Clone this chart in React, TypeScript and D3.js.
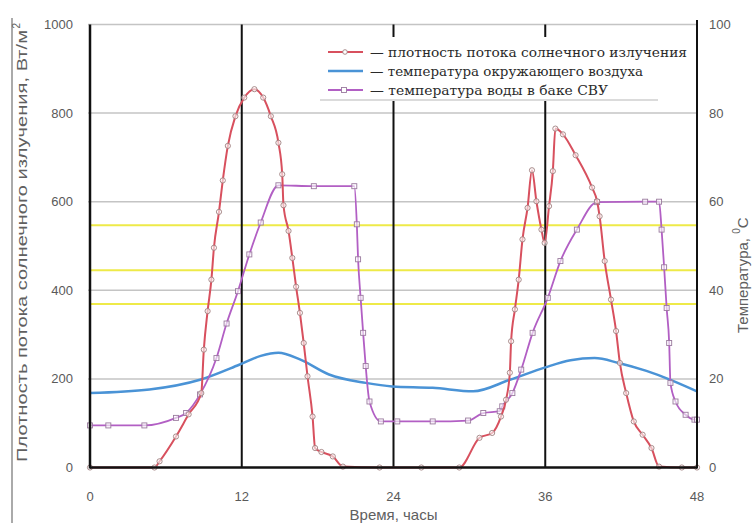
import React from 'react';
import * as d3 from 'd3';

const xTicks = [0, 12, 24, 36, 48];
const leftTicks = [0, 200, 400, 600, 800, 1000];
const rightTicks = [0, 20, 40, 60, 80, 100];
const thresholdLevels = [547, 445, 369];
const dayDividers = [12, 24, 36];

// [hour, W/m²]
const solarFlux: [number, number][] = [
  [0, 0], [5.1, 0], [5.5, 14], [6.8, 70], [7.8, 120], [8.8, 168], [9.0, 266], [9.3, 353],
  [9.6, 424], [9.8, 496], [10.2, 577], [10.5, 648], [10.9, 726], [11.5, 793], [12.2, 835],
  [13.0, 854], [13.7, 835], [14.3, 793], [14.9, 733], [15.2, 662], [15.3, 592], [15.7, 534],
  [16.0, 473], [16.3, 408], [16.6, 349], [16.9, 281], [17.2, 206], [17.6, 115], [17.8, 44],
  [18.3, 35], [19.2, 25], [20.0, 2], [22.9, 0], [26.2, 0], [29.2, 0], [30.8, 67], [31.8, 78],
  [32.5, 115], [32.9, 153], [33.2, 214], [33.3, 285], [33.6, 357], [33.9, 424], [34.2, 515],
  [34.6, 586], [34.95, 671], [35.3, 601], [35.7, 537], [35.95, 507], [36.3, 590], [36.6, 669],
  [36.8, 765], [37.4, 752], [38.4, 705], [39.7, 632], [40.1, 601], [40.3, 567], [40.7, 466],
  [41.2, 379], [41.6, 308], [41.9, 236], [42.4, 168], [43.0, 104], [43.7, 74], [44.4, 44],
  [45.0, 2], [46.8, 0], [48, 0],
];

// [hour, °C]
const airTemp: [number, number][] = [
  [0, 16.8], [4.7, 17.6], [8.7, 19.8], [11.8, 23.2], [13.5, 25.2], [14.9, 25.9], [16.6, 24.4],
  [18.9, 21.0], [21.8, 19.1], [23.9, 18.3], [27.1, 18.0], [30.3, 17.2], [33.2, 19.8],
  [36.0, 22.6], [38.0, 24.2], [39.9, 24.7], [41.8, 23.6], [44.0, 21.8], [45.9, 19.8], [48, 17.2],
];

// [hour, °C]
const waterTemp: [number, number][] = [
  [0, 9.5], [1.45, 9.5], [4.3, 9.5], [6.8, 11.2], [7.6, 12.3], [8.7, 16.5], [10.0, 24.7],
  [10.8, 32.5], [11.7, 39.8], [12.6, 48.1], [13.5, 55.3], [14.9, 63.7], [17.7, 63.5],
  [20.9, 63.5], [21.1, 54.9], [21.2, 47.0], [21.4, 38.3], [21.6, 30.4], [21.8, 22.9],
  [22.1, 14.9], [23.0, 10.4], [24.3, 10.4], [27.1, 10.4], [29.9, 10.6], [31.1, 12.3],
  [32.4, 12.7], [32.6, 13.8], [33.4, 16.8], [34.1, 22.1], [35.0, 30.4], [36.2, 38.3],
  [37.2, 46.6], [38.5, 53.7], [40.1, 59.9], [43.9, 60], [45.0, 60], [45.2, 53.7], [45.4, 45.2],
  [45.6, 36.0], [45.8, 28.1], [45.9, 19.1], [46.3, 14.9], [47.1, 11.9], [47.8, 10.8], [48, 10.8],
];

const legendLabels = [
  '— плотность потока солнечного излучения',
  '— температура окружающего воздуха',
  '— температура воды в баке СВУ',
];
const xTitle = 'Время, часы';
const leftTitle = 'Плотность потока солнечного излучения, Вт/м';
const rightTitle = 'Температура, ';

const RED = '#d8505e';
const BLUE = '#4a93d6';
const PURPLE = '#b25fc4';

export default function App() {
  const W = 754, H = 523;
  const x = d3.scaleLinear().domain([0, 48]).range([90, 697]);
  const yL = d3.scaleLinear().domain([0, 1000]).range([467.5, 24.5]);
  const yR = d3.scaleLinear().domain([0, 100]).range([467.5, 24.5]);

  const lineL = d3.line<[number, number]>().x(d => x(d[0])).y(d => yL(d[1])).curve(d3.curveMonotoneX);
  const lineR = d3.line<[number, number]>().x(d => x(d[0])).y(d => yR(d[1])).curve(d3.curveMonotoneX);

  const tickFont = { fontFamily: 'Liberation Sans, Arial, sans-serif', fontSize: 13, fill: '#5a5a5a' } as const;
  const titleFont = { fontFamily: 'Liberation Sans, Arial, sans-serif', fill: '#606060' } as const;
  const legendYs = [52, 71, 90];
  const legendColors = [RED, BLUE, PURPLE];
  const legendLens = [317, 273, 238];

  return (
    <svg width={W} height={H} style={{ position: 'fixed', left: 0, top: 0, background: '#fff' }}>
      <rect width={W} height={H} fill="#fff" />
      {/* page border artifact */}
      <line x1={12} x2={12} y1={18} y2={523} stroke="#aaa" strokeWidth={2} />

      {/* gridlines */}
      {leftTicks.filter(t => t > 0).map(t => (
        <line key={'g' + t} x1={x(0) - 2} x2={x(48)} y1={yL(t)} y2={yL(t)} stroke="#c4c4c4" strokeWidth={1.5} />
      ))}
      {thresholdLevels.map(t => (
        <line key={'yl' + t} x1={x(0)} x2={x(48)} y1={yL(t)} y2={yL(t)} stroke="#eeea48" strokeWidth={2} />
      ))}
      {dayDividers.map(d => (
        <line key={'d' + d} x1={x(d)} x2={x(d)} y1={yL(1000)} y2={yL(0)} stroke="#111" strokeWidth={2} />
      ))}

      {/* series */}
      <path d={lineR(airTemp) || ''} fill="none" stroke={BLUE} strokeWidth={2.5} />
      <path d={lineR(waterTemp) || ''} fill="none" stroke={PURPLE} strokeWidth={1.8} />
      {waterTemp.map((d, i) => (
        <rect key={'wm' + i} x={x(d[0]) - 2.5} y={yR(d[1]) - 2.5} width={5} height={5} fill="#fff" fillOpacity={0.6} stroke="#9a7a9e" strokeWidth={0.9} />
      ))}
      <path d={lineL(solarFlux) || ''} fill="none" stroke={RED} strokeWidth={2} />
      {solarFlux.map((d, i) => (
        <circle key={'sm' + i} cx={x(d[0])} cy={yL(d[1])} r={2.6} fill="#fff" fillOpacity={0.6} stroke="#a08080" strokeWidth={0.9} />
      ))}

      {/* legend */}
      <rect x={318} y={37} width={378} height={64} fill="#fff" />
      <line x1={320} x2={658} y1={100} y2={100} stroke="#cfcfcf" strokeWidth={1.5} />
      {legendLabels.map((lab, i) => (
        <g key={'lg' + i}>
          <line x1={328} x2={363} y1={legendYs[i]} y2={legendYs[i]} stroke={legendColors[i]} strokeWidth={i === 1 ? 2.5 : 1.8} />
          {i === 0 && <circle cx={345} cy={legendYs[i]} r={2.3} fill="#fff" stroke="#a08080" strokeWidth={0.9} />}
          {i === 2 && <rect x={341.5} y={legendYs[i] - 2.5} width={5} height={5} fill="#fff" stroke="#9a7a9e" strokeWidth={0.9} />}
          <text x={370} y={legendYs[i] + 5} textLength={legendLens[i]} lengthAdjust="spacingAndGlyphs"
            style={{ fontFamily: 'DejaVu Serif, serif', fontSize: 13.5, fill: '#2a2a2a' }}>{lab}</text>
        </g>
      ))}

      {/* axes */}
      <line x1={x(0)} x2={x(0)} y1={yL(1000)} y2={yL(0) + 1} stroke="#111" strokeWidth={2.5} />
      <line x1={x(48)} x2={x(48)} y1={20} y2={yL(0) + 1} stroke="#111" strokeWidth={2} />
      <line x1={x(0)} x2={x(48)} y1={yL(0)} y2={yL(0)} stroke="#111" strokeWidth={2.5} />

      {leftTicks.map(t => (
        <text key={'lt' + t} x={73} y={yL(t)} textAnchor="end" dominantBaseline="central" style={tickFont}>{t}</text>
      ))}
      {rightTicks.map(t => (
        <text key={'rt' + t} x={709} y={yR(t)} textAnchor="start" dominantBaseline="central" style={tickFont}>{t}</text>
      ))}
      {xTicks.map(t => (
        <text key={'xt' + t} x={x(t)} y={496} textAnchor="middle" dominantBaseline="central" style={tickFont}>{t}</text>
      ))}

      <text x={x(24)} y={514} textAnchor="middle" dominantBaseline="central" style={{ ...titleFont, fontSize: 15 }}>{xTitle}</text>

      <g transform="translate(21,242) rotate(-90)">
        <text x={-220} y={0} dominantBaseline="central" textLength={432} lengthAdjust="spacingAndGlyphs"
          style={{ ...titleFont, fontSize: 15 }}>{leftTitle}</text>
        <text x={213.5} y={-5} dominantBaseline="central" style={{ ...titleFont, fontSize: 10 }}>2</text>
      </g>

      <g transform="translate(742,333) rotate(-90)">
        <text x={0} y={0} dominantBaseline="central" style={{ ...titleFont, fontSize: 15 }}>
          {rightTitle}
          <tspan dy={-6} fontSize={10}>0</tspan>
          <tspan dy={6}>С</tspan>
        </text>
      </g>
    </svg>
  );
}
